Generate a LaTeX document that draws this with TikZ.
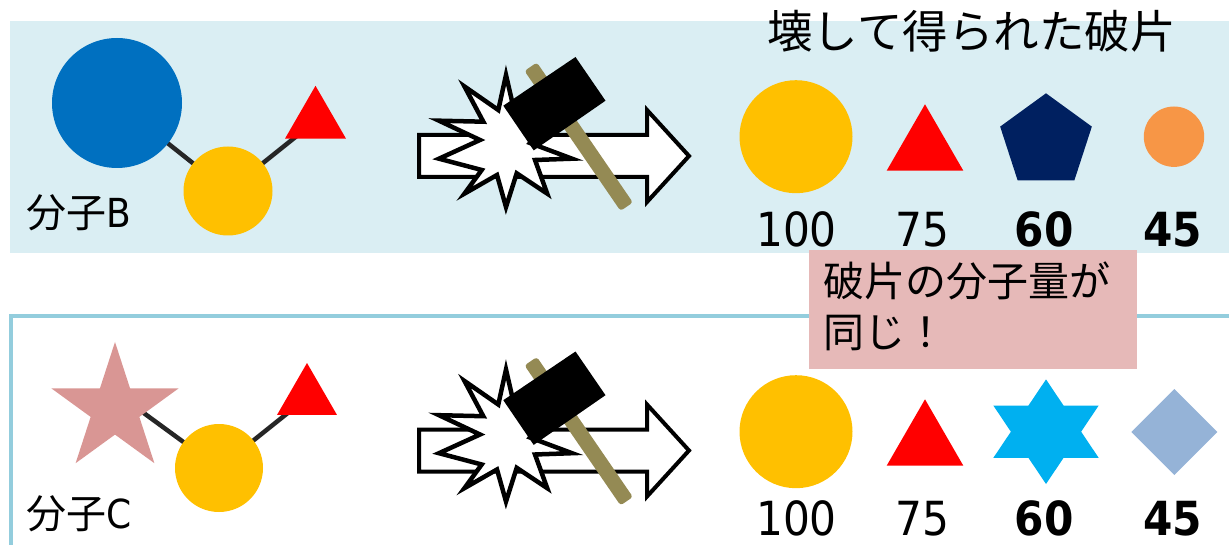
\documentclass[tikz,border=0pt]{standalone}
\usepackage{fontspec}
\setmainfont{Noto Sans CJK JP}
\newfontfamily\numfont[FakeStretch=0.9]{DejaVu Sans}
\usetikzlibrary{shapes.geometric,calc}

\definecolor{panelblue}{HTML}{DAEEF3}
\definecolor{frameblue}{HTML}{93CDDD}
\definecolor{bondgray}{HTML}{262626}
\definecolor{molblue}{HTML}{0070C0}
\definecolor{molyellow}{HTML}{FFC000}
\definecolor{molred}{HTML}{FF0000}
\definecolor{molpink}{HTML}{D99694}
\definecolor{molnavy}{HTML}{002060}
\definecolor{molorange}{HTML}{F79646}
\definecolor{molsky}{HTML}{00B0F0}
\definecolor{mollav}{HTML}{95B3D7}
\definecolor{notepink}{HTML}{E6B9B8}
\definecolor{handle}{HTML}{948A54}

\pgfdeclarelayer{panel}
\pgfdeclarelayer{bonds}
\pgfsetlayers{panel,bonds,main}

\tikzset{
  shapebase/.style={inner sep=0pt,outer sep=0pt,draw=none},
  atom/.style={shapebase,circle,minimum size=#1},
  tri/.style={shapebase,regular polygon,regular polygon sides=3,fill=molred,minimum size=#1},
  bond/.style={draw=bondgray,line width=4.5pt},
  num/.style={inner sep=0pt,anchor=base,font=\numfont\fontsize{47}{56}\selectfont},
  numbold/.style={num,font=\numfont\bfseries\fontsize{47}{56}\selectfont},
  label/.style={inner sep=0pt,anchor=base west,font=\fontsize{40}{48}\selectfont},
  notetext/.style={inner sep=0pt,anchor=base west,font=\fontsize{41}{50}\selectfont},
  pics/smash/.style={code={
    % outlined arrow
    \draw[line width=4pt,fill=white,line join=miter]
      (419,135) -- (647,135) -- (647,110) -- (689,156) -- (647,202)
      -- (647,177) -- (419,177) -- cycle;
    % burst
    \begin{scope}[shift={(507,141)}]
      \draw[line width=4.5pt,fill=white,line join=miter]
        (-1,-66) -- (5.5,-37.7) -- (48.8,-28.5) -- (23,2)
        -- (65,17.7) -- (28,19) -- (40.2,52.6) -- (9.7,32.3)
        -- (-1,66) -- (-10,34) -- (-42.5,52.6) -- (-25.3,29)
        -- (-68,17.7) -- (-27,-1) -- (-68,-20.3) -- (-23.7,-19.3)
        -- (-42.5,-54.5) -- (-8.7,-31) -- cycle;
    \end{scope}
    % hammer handle and head
    \fill[handle,rounded corners=3pt]
      (536.9,62.5) -- (632.9,202.5) -- (620.5,210.9) -- (524.5,70.9) -- cycle;
    \fill[black]
      (575.5,57.0) -- (605.5,100.7) -- (533.7,150.4) -- (503.3,105.7) -- cycle;
  }}
}

\begin{document}
\begin{tikzpicture}[x=1pt,y=-1pt]
\useasboundingbox (0,0) rectangle (1229,545);

% panels
\begin{pgfonlayer}{panel}
  \fill[panelblue] (10,21) rectangle (1229,253);
  \draw[frameblue,line width=4.5pt] (11,316) rectangle (1260,600);
\end{pgfonlayer}

% molecule B
\node[atom=130pt,fill=molblue] (bB) at (117,103) {};
\node[atom=89pt,fill=molyellow] (yB) at (228,191) {};
\node[tri=70.4pt] (tB) at (315.5,121) {};
\begin{pgfonlayer}{bonds}
  \draw[bond] (bB.center) -- (yB.center);
  \draw[bond] (yB.center) -- (tB.center);
\end{pgfonlayer}
\node[label] (lblB) at (26,228) {分子{\numfont B}};

% molecule C
\node[shapebase,star,star points=5,star point ratio=2.618,minimum size=134pt,fill=molpink] (sC) at (115,409) {};
\node[atom=88pt,fill=molyellow] (yC) at (219,468) {};
\node[tri=69.2pt] (tC) at (307,397.6) {};
\begin{pgfonlayer}{bonds}
  \draw[bond] (yC.center) -- ($(sC.center)+(0,-17)$);
  \draw[bond] (yC.center) -- (tC.center);
\end{pgfonlayer}
\node[label] (lblC) at (26,528.5) {分子{\numfont C}};

% breaking step
\pic (smashB) at (0,0) {smash};
\pic (smashC) at (0,294.5) {smash};

% fragments of B
\node[inner sep=0pt,anchor=base,font=\fontsize{45.5}{54}\selectfont] (title) at (971.5,49) {壊して得られた破片};
\node[atom=113pt,fill=molyellow] (f1) at (796,136.7) {};
\node[tri=88.4pt] (f2) at (925,148.5) {};
\node[shapebase,regular polygon,regular polygon sides=5,minimum size=96.4pt,fill=molnavy] (f3) at (1046,141.5) {};
\node[atom=60.4pt,fill=molorange] (f4) at (1174,136.7) {};
\node[num] (m1) at (796.5,246.5) {100};
\node[num] (m2) at (922.5,246.5) {75};
\node[numbold] (m3) at (1044,246.5) {60};
\node[numbold] (m4) at (1172.5,246.5) {45};

% fragments of C
\node[atom=113pt,fill=molyellow] (g1) at (796,431.7) {};
\node[tri=88.4pt] (g2) at (925,443.5) {};
\node[shapebase,star,star points=6,star point ratio=1.732,minimum size=104.6pt,xscale=1.163,fill=molsky] (g3) at (1046,431.7) {};
\node[shapebase,diamond,minimum width=86pt,minimum height=86pt,fill=mollav] (g4) at (1174.3,432) {};
\node[num] (n1) at (796.5,535) {100};
\node[num] (n2) at (922.5,535) {75};
\node[numbold] (n3) at (1044,535) {60};
\node[numbold] (n4) at (1172.5,535) {45};

% note
\node[shapebase,fill=notepink,anchor=north west,minimum width=328pt,minimum height=119pt] (note) at (809,250) {};
\node[notetext] (note1) at (823,297) {破片の分子量が};
\node[notetext] (note2) at (823,348) {同じ！};
\end{tikzpicture}
\end{document}
